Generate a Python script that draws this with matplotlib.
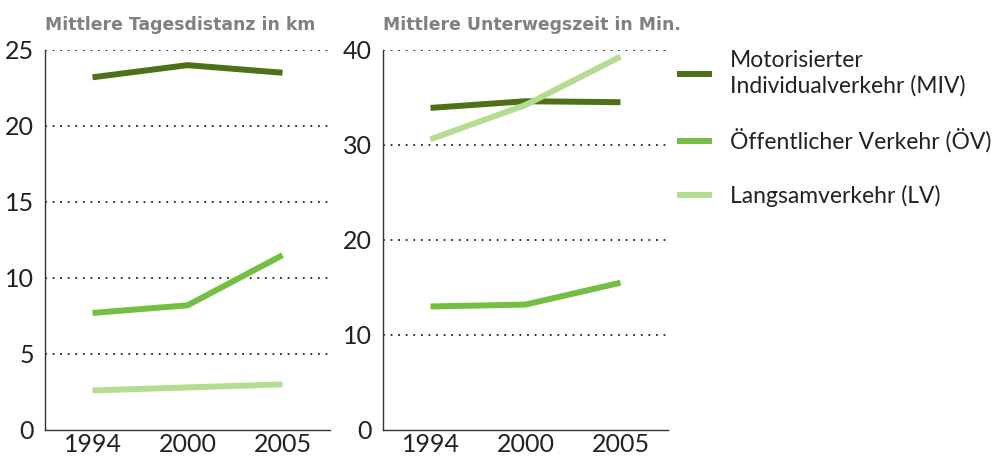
import matplotlib.pyplot as plt

plt.rcParams['font.family'] = ['Lato', 'DejaVu Sans']

years = ['1994', '2000', '2005']

# Mittlere Tagesdistanz in km
dist_miv = [23.2, 24.0, 23.5]
dist_oev = [7.7, 8.2, 11.5]
dist_lv = [2.6, 2.8, 3.0]

# Mittlere Unterwegszeit in Min.
zeit_miv = [33.9, 34.6, 34.5]
zeit_oev = [13.0, 13.2, 15.5]
zeit_lv = [30.6, 34.2, 39.3]

labels = ['Motorisierter\nIndividualverkehr (MIV)', 'Öffentlicher Verkehr (ÖV)', 'Langsamverkehr (LV)']
colors = ['#4e7118', '#74bf43', '#b4dc92']

fig = plt.figure(figsize=(9.94, 4.59), dpi=100)
ax1 = fig.add_axes([0.0453, 0.0632, 0.2867, 0.828])
ax2 = fig.add_axes([0.3853, 0.0632, 0.2867, 0.828])


def style(ax, ymax, step, title):
    ax.set_xlim(-0.5, 2.5)
    ax.set_ylim(0, ymax)
    ax.set_yticks(range(0, ymax + 1, step))
    ax.set_xticks(range(len(years)))
    ax.set_xticklabels(years)
    for y in range(step, ymax + 1, step):
        ax.axhline(y, color='#222222', lw=1.3, ls=(0, (1, 3.2)), zorder=0)
    for s in ['top', 'right']:
        ax.spines[s].set_visible(False)
    for s in ['left', 'bottom']:
        ax.spines[s].set_color('#333333')
        ax.spines[s].set_linewidth(1.0)
    ax.tick_params(length=0, labelsize=18, colors='#222222')
    ax.tick_params(axis='x', pad=2)
    ax.tick_params(axis='y', pad=8)
    ax.set_title(title, loc='left', x=0.0, fontsize=12.4, fontweight='bold',
                 color='#808080', pad=14, family='DejaVu Sans')


lines = []
for vals, c in zip([dist_miv, dist_oev, dist_lv], colors):
    ax1.plot(range(len(years)), vals, color=c, lw=4.3, solid_capstyle='butt')
for vals, c in zip([zeit_miv, zeit_oev, zeit_lv], colors):
    l, = ax2.plot(range(len(years)), vals, color=c, lw=4.3, solid_capstyle='butt')
    lines.append(l)

style(ax1, 25, 5, 'Mittlere Tagesdistanz in km')
style(ax2, 40, 10, 'Mittlere Unterwegszeit in Min.')

fig.legend(lines, labels, loc='upper left', bbox_to_anchor=(0.672, 0.91),
           frameon=False, fontsize=16.5, handlelength=1.5, handletextpad=0.8,
           labelspacing=1.4, labelcolor='#222222', borderaxespad=0)

fig.savefig('out.png', dpi=100)
